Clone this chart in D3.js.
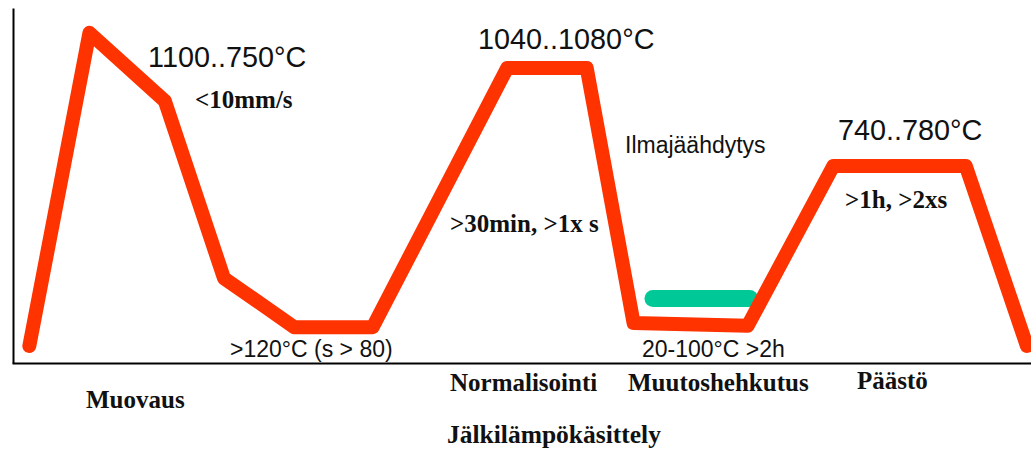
<!DOCTYPE html>
<html>
<head>
<meta charset="utf-8">
<script src="https://cdn.jsdelivr.net/npm/d3@7"></script>
<style>
  html, body { margin: 0; padding: 0; background: #fff; }
  svg { display: block; }
</style>
</head>
<body>
<svg id="chart" width="1031" height="450"></svg>
<script>
// ---- data (schematic: relative time 0..100, relative temperature 0..100) ----
const profileTime = [1.7, 7.6, 15.0, 20.8, 27.7, 35.4, 48.6, 56.4, 61.0, 72.2, 80.6, 93.6, 99.6];
const profileTemp = [4.8, 93.0, 73.8, 23.9, 10.1, 10.1, 83.1, 83.1, 11.3, 10.5, 55.5, 55.5, 4.8];
const holdTime = [62.9, 72.4];
const holdTemp = [18.2, 18.2];
const tempLabels = ["1100..750°C", "1040..1080°C", "740..780°C"];
const conditionLabels = ["<10mm/s", ">30min, >1x s", ">1h, >2xs"];
const noteLabels = [">120°C (s > 80)", "Ilmajäähdytys", "20-100°C >2h"];
const stageLabels = ["Muovaus", "Normalisointi", "Muutoshehkutus", "Päästö"];
const groupLabel = "Jälkilämpökäsittely";

// ---- layout ----
const W = 1031, H = 450;
const svg = d3.select("#chart");
const x = d3.scaleLinear().domain([0, 100]).range([12, 1031]);
const y = d3.scaleLinear().domain([0, 100]).range([363, 8]);

// axes (no ticks)
svg.append("g").attr("transform", `translate(${x(0) + 1},0)`)
  .call(d3.axisLeft(y).tickValues([]).tickSizeOuter(0))
  .call(g => g.select(".domain").attr("stroke", "#000").attr("stroke-width", 2));
svg.append("g").attr("transform", `translate(0,${y(0)})`)
  .call(d3.axisBottom(x).tickValues([]).tickSizeOuter(0))
  .call(g => g.select(".domain").attr("stroke", "#000").attr("stroke-width", 2));

// green hold bar
const holdData = holdTime.map((t, i) => [t, holdTemp[i]]);
svg.append("path")
  .datum(holdData)
  .attr("d", d3.line().x(d => x(d[0])).y(d => y(d[1])))
  .attr("fill", "none")
  .attr("stroke", "#00c896")
  .attr("stroke-width", 17)
  .attr("stroke-linecap", "round");

// red temperature profile
const profile = profileTime.map((t, i) => [t, profileTemp[i]]);
svg.append("path")
  .datum(profile)
  .attr("d", d3.line().x(d => x(d[0])).y(d => y(d[1])))
  .attr("fill", "none")
  .attr("stroke", "#ff3300")
  .attr("stroke-width", 14)
  .attr("stroke-linejoin", "round")
  .attr("stroke-linecap", "round");

// text
const sans = "'Liberation Sans', Arial, sans-serif";
const serif = "'Liberation Serif', 'Times New Roman', serif";
function label(txt, px, py, family, size, weight) {
  svg.append("text")
    .attr("x", px).attr("y", py)
    .attr("font-family", family)
    .attr("font-size", size)
    .attr("font-weight", weight || "normal")
    .attr("fill", "#111")
    .text(txt);
}
const tempPos = [[148, 67], [478, 49], [838, 140]];
tempLabels.forEach((t, i) => label(t, tempPos[i][0], tempPos[i][1], sans, 28.8));
const condPos = [[195, 108], [450, 232], [845, 208]];
conditionLabels.forEach((t, i) => label(t, condPos[i][0], condPos[i][1], serif, 25, "bold"));
const notePos = [[230, 357], [625, 153], [642, 357]];
noteLabels.forEach((t, i) => label(t, notePos[i][0], notePos[i][1], sans, 23));
const stagePos = [[86, 408], [450, 391], [628, 391], [857, 389]];
stageLabels.forEach((t, i) => label(t, stagePos[i][0], stagePos[i][1], serif, 25, "bold"));
label(groupLabel, 447, 443, serif, 25.5, "bold");
</script>
</body>
</html>
